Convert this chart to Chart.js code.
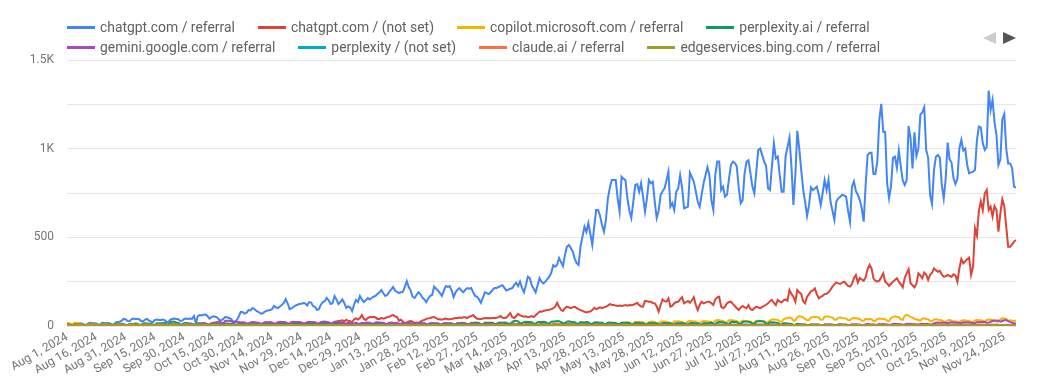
<!DOCTYPE html>
<html>
<head>
<meta charset="utf-8">
<script src="https://cdn.jsdelivr.net/npm/chart.js@4.4.1/dist/chart.umd.min.js"></script>
<style>
  html, body { margin: 0; padding: 0; background: #fff; }
  #wrap { position: relative; width: 1039px; height: 376px; overflow: hidden; font-family: Roboto, "Noto Sans", sans-serif; }
  #c { position: absolute; left: 0; top: 0; }
  #legend { position: absolute; left: 67px; top: 17px; font-size: 13.9px; color: #616161; }
  .lrow { display: flex; height: 20px; align-items: center; white-space: nowrap; }
  .litem { display: flex; align-items: center; margin-right: 23px; }
  .lmark { width: 28px; height: 3px; margin-right: 5px; }
  .tri { position: absolute; top: 32px; width: 0; height: 0; border-top: 6px solid transparent; border-bottom: 6px solid transparent; }
  #prev { left: 983px; border-right: 13px solid #cccccc; }
  #next { left: 1003px; border-left: 13px solid #555555; }
</style>
</head>
<body>
<div id="wrap">
  <canvas id="c" width="1039" height="376"></canvas>
  <div id="legend"></div>
  <div class="tri" id="prev"></div>
  <div class="tri" id="next"></div>
</div>
<script>
// ---- Data (daily, Aug 1, 2024 .. Nov 30, 2025) ----
const startDate = "Aug 1, 2024";
const seriesNames = [
  "chatgpt.com / referral", "chatgpt.com / (not set)", "copilot.microsoft.com / referral", "perplexity.ai / referral",
  "gemini.google.com / referral", "perplexity / (not set)", "claude.ai / referral", "edgeservices.bing.com / referral"
];
const tickLabels = [
  "Aug 1, 2024","Aug 16, 2024","Aug 31, 2024","Sep 15, 2024","Sep 30, 2024","Oct 15, 2024","Oct 30, 2024",
  "Nov 14, 2024","Nov 29, 2024","Dec 14, 2024","Dec 29, 2024","Jan 13, 2025","Jan 28, 2025","Feb 12, 2025",
  "Feb 27, 2025","Mar 14, 2025","Mar 29, 2025","Apr 13, 2025","Apr 28, 2025","May 13, 2025","May 28, 2025",
  "Jun 12, 2025","Jun 27, 2025","Jul 12, 2025","Jul 27, 2025","Aug 11, 2025","Aug 26, 2025","Sep 10, 2025",
  "Sep 25, 2025","Oct 10, 2025","Oct 25, 2025","Nov 9, 2025","Nov 24, 2025"
];
const yTickValues = [0, 500, 1000, 1500];
const yTickText = ["0", "500", "1K", "1.5K"];

const chatgptReferral = [
14,12,6,5,15,16,13,15,13,7,
6,16,18,15,16,14,8,7,18,17,
16,17,15,9,9,20,22,24,30,40,
38,28,27,38,42,40,40,38,28,26,
36,40,30,25,22,34,36,34,34,36,
33,22,24,36,40,42,40,38,28,30,
40,42,40,42,40,56,15,55,62,60,
64,65,55,42,50,55,52,48,34,32,
40,50,49,45,40,25,25,34,55,80,
78,70,75,90,88,101,96,85,80,72,
70,78,85,88,90,95,113,105,101,110,
118,130,152,128,95,100,107,115,120,124,
125,130,128,115,135,132,113,108,90,95,
120,135,140,158,145,124,128,169,150,124,
135,150,130,102,110,105,84,120,147,135,
169,150,135,145,158,150,158,165,170,180,
190,203,185,169,175,192,205,221,200,192,
185,190,192,220,253,220,200,165,158,175,
190,180,160,150,135,155,170,175,222,210,
200,185,170,200,225,220,225,200,163,190,
205,214,200,190,205,214,210,214,190,170,
165,150,130,160,190,185,180,190,205,214,
214,220,225,230,215,200,205,210,214,230,
244,225,250,215,190,230,278,270,230,210,
190,230,270,250,240,250,265,278,300,343,
335,345,383,360,338,400,447,457,440,419,
380,355,345,450,504,560,530,580,520,457,
560,654,654,620,570,532,600,720,780,823,
823,823,720,645,842,830,823,720,650,609,
700,795,800,757,805,730,645,720,823,805,
814,700,609,650,738,760,776,820,870,673,
693,654,757,776,851,780,664,668,673,865,
840,814,760,702,673,740,805,850,895,851,
710,654,851,927,927,767,785,729,740,830,
908,927,920,900,780,692,710,860,927,935,
860,786,748,870,993,1000,965,927,905,777,
767,900,1030,945,955,850,757,757,955,1010,
1063,900,682,850,1101,1000,880,770,700,620,
680,782,767,775,786,740,682,750,823,767,
825,702,650,598,702,720,729,740,735,729,
650,588,786,815,760,740,710,664,588,795,
964,977,977,857,857,930,1162,1252,1096,1096,
805,720,790,948,955,891,989,900,820,795,
820,1128,1060,889,1092,959,1000,1190,1205,1233,
993,950,739,688,880,955,965,950,795,720,
830,1034,940,920,833,801,830,1001,1049,990,
1000,908,861,866,870,880,1050,1124,1120,1030,
993,1010,1327,1218,1275,1150,1077,908,940,1165,
1196,1000,917,917,890,786,780
];

const chatgptNotSet = [
4,5,2,2,5,6,5,4,5,2,
2,6,5,6,5,4,2,3,6,7,
5,6,5,3,2,6,7,6,7,6,
3,3,7,8,6,7,7,4,3,8,
7,8,6,8,4,4,9,8,7,8,
9,4,5,8,9,10,8,9,4,5,
10,9,8,9,10,5,5,10,11,10,
11,10,6,6,11,12,10,11,9,6,
7,12,11,12,10,8,6,7,12,13,
12,13,11,7,8,13,14,12,13,11,
8,8,14,13,14,13,12,8,9,15,
14,15,14,13,9,10,15,16,14,15,
15,10,11,16,17,16,15,14,10,12,
18,17,18,20,16,12,14,22,25,28,
30,32,26,34,30,28,20,38,43,36,
45,62,40,34,45,50,49,52,48,40,
40,45,42,45,50,52,58,62,55,50,
30,35,25,17,20,25,28,25,17,20,
17,25,30,35,40,43,45,49,50,45,
38,38,35,40,42,38,38,40,42,45,
45,48,45,49,49,45,52,55,62,50,
42,38,40,42,45,44,45,44,45,45,
46,50,56,46,45,48,60,73,50,45,
55,68,60,56,52,55,50,52,56,50,
60,70,81,80,85,88,90,92,95,100,
109,131,109,90,85,100,109,105,100,105,
109,100,95,90,85,80,77,80,81,90,
103,95,100,105,100,105,109,115,124,120,
118,115,113,115,113,115,118,115,118,117,
120,125,131,118,110,109,141,139,137,137,
130,128,110,81,120,150,140,137,156,109,
115,128,135,137,150,162,128,135,141,131,
145,162,120,90,120,137,128,132,137,137,
128,118,150,162,165,109,100,110,128,135,
137,125,113,100,90,105,113,105,100,118,
95,90,100,109,105,100,108,113,120,128,
140,147,130,118,147,138,133,145,150,143,
203,180,165,137,203,190,180,140,128,165,
180,195,200,212,180,156,165,170,180,182,
190,205,222,235,246,240,237,245,250,238,
226,222,237,270,288,245,270,262,255,275,
320,345,325,269,255,250,255,275,297,250,
240,226,238,250,260,269,250,235,218,270,
297,320,241,230,218,237,297,285,269,301,
290,260,288,300,325,315,306,311,290,278,
280,288,282,278,292,285,250,325,378,353,
365,376,385,288,335,551,510,650,702,654,
748,767,654,673,617,676,654,532,636,714,
676,560,447,447,460,476,485
];

const copilotReferral = [
14,17,12,10,18,16,15,12,10,6,
5,9,8,7,8,6,4,4,7,8,
7,6,5,3,3,7,8,6,7,6,
4,3,6,7,6,5,6,4,3,6,
7,6,5,6,3,4,8,6,6,7,
5,3,3,6,7,6,6,5,3,4,
6,7,6,5,6,3,3,7,6,7,
6,5,3,4,7,6,6,7,5,3,
4,6,7,6,6,5,3,3,7,6,
7,6,5,3,4,7,8,7,6,7,
4,3,7,8,7,6,7,4,3,8,
7,8,6,7,3,4,8,9,8,7,
8,4,4,8,7,8,9,8,4,3,
8,9,8,7,8,4,4,9,8,9,
7,8,4,4,6,5,3,6,7,4,
4,8,7,6,8,7,4,4,9,8,
9,8,7,4,5,9,10,8,9,8,
5,4,9,10,9,8,9,5,4,10,
9,10,8,9,5,5,10,11,9,10,
9,5,5,11,10,9,10,9,5,5,
10,11,10,9,10,6,5,11,10,12,
11,10,6,5,12,11,10,11,10,6,
6,12,11,12,10,11,6,6,12,13,
12,11,10,6,7,12,13,12,11,12,
7,7,13,12,14,12,13,7,7,13,
14,13,12,13,8,7,14,13,15,14,
13,8,8,15,14,15,16,14,8,9,
16,15,17,16,15,9,10,17,18,16,
17,16,10,10,18,19,20,22,18,12,
13,25,22,24,22,20,14,13,22,24,
25,22,15,15,24,26,25,24,22,16,
16,25,26,27,25,24,17,17,26,28,
27,26,25,18,18,25,28,27,26,25,
18,19,30,34,32,30,28,20,20,32,
33,32,30,29,20,21,30,28,27,26,
25,18,19,28,30,29,28,27,20,21,
32,35,38,36,34,25,24,38,42,45,
48,45,30,32,50,56,52,48,40,32,
34,48,50,52,50,48,35,36,52,54,
53,50,48,36,35,46,48,45,43,42,
33,32,43,45,44,42,40,30,30,40,
38,40,38,28,28,40,42,41,40,38,
30,29,45,50,55,52,50,38,35,58,
62,60,50,48,40,38,34,30,42,44,
40,38,28,27,36,38,36,34,33,25,
24,32,34,30,25,27,22,22,30,32,
31,30,29,22,23,32,34,33,33,30,
24,34,36,35,34,33,26,26,38,43,
42,40,30,32,30,28,32
];

const perplexityAiReferral = [
8,9,5,5,10,11,9,10,9,5,
5,11,10,12,10,9,6,5,12,11,
10,11,10,6,6,12,13,11,12,11,
6,6,12,13,12,14,13,7,7,14,
15,14,13,14,7,8,15,16,15,16,
18,10,9,22,25,24,20,17,10,9,
16,17,15,14,13,8,8,15,16,14,
15,14,8,7,14,15,13,14,12,7,
7,13,14,13,12,11,6,6,12,13,
12,11,10,6,6,12,13,12,11,12,
7,6,12,13,12,11,12,6,7,13,
12,13,12,11,6,6,12,13,12,13,
12,7,6,13,12,13,12,11,6,7,
13,14,13,12,13,7,7,14,13,12,
13,12,7,6,10,9,5,8,10,7,
7,12,13,12,14,13,8,8,14,15,
14,13,14,8,8,15,16,14,15,14,
9,8,15,14,16,15,14,9,8,15,
16,15,14,15,8,9,16,15,16,14,
15,9,9,16,17,16,15,16,9,10,
17,16,18,17,16,10,10,18,17,19,
18,17,10,10,18,19,18,19,18,11,
11,19,20,19,20,18,12,12,22,28,
30,26,16,15,22,24,22,23,21,14,
13,22,23,22,24,23,14,14,24,25,
26,28,27,22,16,15,25,27,24,23,
22,14,13,22,21,20,22,21,13,12,
20,21,20,19,20,12,11,19,20,19,
18,17,11,10,18,19,18,17,18,10,
10,17,18,17,16,17,10,9,16,17,
16,17,15,9,9,16,17,16,15,16,
9,9,16,15,16,17,15,9,9,16,
17,16,15,16,9,8,15,16,15,16,
20,12,10,20,22,21,20,19,11,10,
22,24,23,22,12,11,23,25,26,24,
22,13,12,25,27,28,26,24,13,12,
22,20,21,19,17,10,9,16,15,14,
13,12,7,6,12,11,10,9,8,5,
5,8,9,8,7,8,5,4,8,7,
8,7,5,4,4,7,8,7,6,7,
4,4,7,6,7,6,5,3,3,6,
7,6,5,6,3,3,6,7,6,5,
6,3,3,6,5,6,7,6,3,3,
6,7,6,5,6,3,3,6,7,6,
5,6,3,3,5,6,7,6,5,3,
3,6,5,6,7,6,3,3,6,7,
6,5,6,3,3,6,5,6,7,6,
3,3,6,7,6,5,6,3,3,5,
6,5,4,3,3,3,4
];

const geminiReferral = [
3,4,2,2,4,5,4,3,4,2,
2,4,5,4,5,4,2,2,5,4,
5,4,4,2,2,5,6,5,6,5,
3,3,6,7,6,6,7,3,3,7,
8,7,6,7,4,4,8,9,8,9,
8,5,5,9,10,9,10,9,5,5,
10,11,10,12,11,6,6,12,13,14,
15,14,8,8,16,18,20,22,25,18,
15,28,30,29,28,20,18,25,22,20,
21,20,14,15,20,22,21,20,19,14,
13,20,22,21,22,20,14,15,22,24,
23,22,21,15,14,23,24,22,23,22,
20,16,15,22,24,23,22,21,15,14,
22,24,25,23,21,15,16,24,22,23,
21,20,15,14,18,16,10,14,18,14,
13,18,16,18,20,19,14,13,20,21,
20,19,18,13,12,19,20,18,17,18,
12,12,18,17,16,15,16,11,10,16,
15,14,15,14,10,10,14,15,13,14,
13,9,9,14,13,12,13,12,8,8,
12,13,11,12,11,8,8,12,11,12,
11,10,7,7,11,12,11,10,11,7,
7,11,10,11,10,9,6,6,10,11,
10,9,10,6,6,10,9,10,9,8,
5,5,9,10,9,8,9,5,5,10,
9,8,9,8,5,5,9,10,9,8,
9,5,5,9,8,9,8,7,5,5,
8,9,8,7,8,5,5,9,8,9,
8,7,5,4,8,9,8,7,8,5,
5,8,9,8,7,8,5,5,8,9,
8,9,7,4,5,9,8,7,8,5,
5,8,9,8,7,8,5,4,8,9,
8,7,8,5,5,9,8,7,8,7,
5,5,8,9,8,7,8,5,5,9,
8,7,8,7,5,5,8,9,8,7,
8,5,5,9,8,9,8,7,5,5,
8,9,8,7,8,5,5,9,8,7,
8,7,5,5,8,9,8,7,8,5,
5,9,8,7,8,7,5,5,8,9,
8,9,8,5,6,9,10,9,8,9,
6,6,10,9,10,9,8,6,6,10,
11,10,9,10,7,7,11,10,11,10,
9,7,7,11,12,11,10,11,7,8,
12,11,12,10,11,8,8,12,13,12,
13,12,9,9,14,18,20,19,20,19,
18,15,20,21,20,19,20,16,17,21,
20,21,19,20,16,16,22,21,22,23,
22,18,18,24,28,30,31,30,25,28,
32,33,28,22,18,14,16
];

const perplexityNotSet = [
3,4,2,2,4,3,4,3,4,2,
2,4,3,4,3,4,2,2,4,3,
3,4,3,1,2,4,3,4,3,4,
2,2,4,3,4,3,4,2,1,4,
3,4,3,4,2,2,4,3,4,3,
4,2,2,3,4,3,4,3,2,1,
4,3,4,3,4,2,2,4,3,4,
3,4,2,2,4,3,4,3,4,2,
2,4,3,4,3,4,2,1,3,4,
3,4,3,2,2,4,3,4,3,4,
2,2,4,5,4,3,4,2,2,4,
5,4,3,4,2,2,4,5,4,5,
4,2,2,5,4,5,4,3,2,2,
4,5,4,5,4,2,2,5,4,5,
4,3,2,2,3,2,1,3,4,2,
2,4,5,4,5,4,2,2,5,4,
5,4,5,2,2,5,6,5,4,5,
2,2,5,6,5,6,5,2,3,5,
6,5,6,5,3,2,5,6,5,6,
5,3,2,6,5,6,5,6,3,2,
5,6,5,6,5,3,2,6,5,6,
5,6,3,2,6,5,6,5,6,3,
2,6,5,7,6,5,3,3,6,7,
6,5,6,3,3,6,7,6,5,6,
3,3,6,7,6,5,6,3,2,6,
7,6,5,6,3,3,6,5,6,7,
6,3,3,6,5,6,5,6,3,2,
6,5,6,5,6,3,3,5,6,5,
6,5,3,2,5,6,5,6,5,3,
3,5,6,5,6,5,3,2,5,6,
5,6,5,3,2,5,6,5,4,5,
3,2,5,4,5,4,5,2,2,5,
4,5,4,5,2,2,4,5,4,5,
4,2,2,5,4,5,4,5,2,2,
4,5,4,5,4,2,2,5,4,5,
4,5,2,2,4,5,4,5,4,2,
2,4,5,4,5,4,2,2,4,5,
4,5,4,2,2,4,5,4,5,4,
2,2,4,5,4,5,4,2,2,4,
5,4,5,4,2,2,4,5,4,5,
4,2,2,4,5,4,5,4,2,2,
4,5,4,5,4,2,2,4,5,4,
5,4,2,2,4,5,4,5,4,2,
2,4,5,4,5,4,2,2,4,5,
4,5,4,2,2,4,5,4,5,4,
2,2,4,5,4,5,4,2,2,4,
5,4,5,4,2,2,4,5,4,5,
4,2,2,4,5,4,5,4,2,2,
4,5,4,2,2,3,3
];

const claudeReferral = [
2,3,1,1,3,2,3,2,3,1,
1,3,2,3,2,3,1,1,3,2,
2,3,2,1,1,3,2,3,2,3,
1,1,3,2,3,2,3,1,1,3,
2,3,2,3,1,1,3,2,3,2,
3,1,1,3,4,3,4,3,1,1,
4,3,4,3,4,1,1,4,3,4,
3,4,2,2,4,3,4,3,4,2,
2,4,3,4,3,4,2,1,3,4,
3,4,3,2,2,4,3,4,3,4,
3,4,3,2,2,5,4,5,4,3,
2,2,5,4,6,5,4,2,2,5,
6,5,4,5,2,2,5,6,5,6,
5,3,2,6,5,6,5,6,3,2,
5,4,5,3,2,2,2,3,5,3,
3,5,6,5,6,5,3,2,6,5,
6,5,6,3,3,6,7,6,5,6,
3,3,6,7,6,7,6,3,3,6,
7,6,7,6,3,3,6,7,6,7,
6,3,3,7,6,7,6,7,3,3,
6,7,6,7,6,3,3,7,6,7,
6,7,3,3,7,6,7,6,7,3,
3,7,6,8,7,6,3,3,7,8,
7,6,7,3,3,7,8,7,6,7,
4,4,7,8,7,6,7,4,3,7,
8,7,6,7,4,4,7,6,7,8,
7,4,4,7,6,7,6,7,4,3,
7,6,7,6,7,4,4,6,7,6,
7,6,4,3,6,7,6,7,6,4,
4,6,7,6,7,6,4,3,6,7,
6,7,6,4,3,6,7,6,5,6,
4,3,6,5,6,5,6,3,3,6,
5,6,5,6,3,3,5,6,5,6,
5,3,3,6,5,6,5,6,3,3,
5,6,5,6,5,3,3,6,5,6,
5,6,3,3,5,6,5,6,5,3,
3,5,6,5,6,5,3,3,5,6,
5,6,5,3,3,5,6,5,6,5,
3,3,5,6,5,6,5,3,3,5,
6,5,6,5,3,3,5,6,5,6,
5,3,3,5,6,5,6,5,3,3,
5,6,5,6,5,3,3,5,6,5,
6,5,3,3,5,7,6,7,6,3,
3,6,7,6,7,6,3,3,6,7,
6,7,6,3,3,7,8,7,8,7,
3,3,7,8,7,8,7,3,3,7,
8,7,8,7,3,3,7,8,7,8,
7,3,3,7,8,7,8,7,3,3,
6,7,6,3,3,4,5
];

const edgeservicesReferral = [
10,11,6,6,12,11,10,11,10,6,
6,11,12,11,10,11,6,5,11,10,
11,10,9,5,5,10,11,10,9,10,
5,5,10,9,10,9,10,5,4,9,
10,9,8,9,4,4,9,10,9,8,
9,4,4,8,9,8,9,8,4,4,
8,9,8,7,8,4,4,8,7,8,
7,8,4,3,7,8,7,8,7,3,
3,7,8,7,6,7,3,3,7,6,
7,6,7,3,3,6,7,6,7,6,
3,3,6,7,6,5,6,3,3,6,
5,6,5,6,3,3,6,5,6,5,
6,3,3,5,6,5,6,5,3,3,
5,6,5,6,5,3,3,5,6,5,
6,5,3,3,4,3,2,4,5,3,
3,5,6,5,6,5,3,3,5,6,
5,6,5,3,3,5,6,5,6,5,
3,3,5,6,5,6,5,3,3,5,
6,5,6,5,3,3,5,6,5,6,
5,3,3,5,6,5,6,5,3,3,
5,6,5,6,5,3,3,5,6,5,
6,5,3,3,5,6,5,6,5,3,
3,5,6,5,6,5,3,3,5,6,
5,6,5,3,3,5,6,5,6,5,
3,3,5,6,5,6,5,3,3,5,
4,5,4,5,2,2,4,5,4,5,
4,2,2,4,5,4,5,4,2,2,
4,5,4,5,4,2,2,4,5,4,
5,4,2,2,4,5,4,5,4,2,
2,4,5,4,5,4,2,2,4,5,
4,5,4,2,2,4,5,4,5,4,
2,2,4,5,4,5,4,2,2,4,
5,4,5,4,2,2,4,5,4,5,
4,2,2,4,5,4,5,4,2,2,
4,5,4,5,4,2,2,4,5,4,
5,4,2,2,4,5,4,5,4,2,
2,4,5,4,5,4,2,2,4,5,
4,5,4,2,2,4,5,4,5,4,
2,2,4,5,4,5,4,2,2,4,
5,4,5,4,2,2,4,5,4,5,
4,2,2,4,5,4,5,4,2,2,
4,5,4,5,4,2,2,4,5,4,
5,4,2,2,4,5,4,5,4,2,
2,4,5,4,5,4,2,2,4,5,
4,5,4,2,2,4,5,4,5,4,
2,2,4,5,4,5,4,2,2,4,
5,4,5,4,2,2,4,5,4,5,
4,2,2,4,5,4,5,4,2,2,
4,5,4,2,2,3,4
];

// ---- Styles ----
const seriesValues = [chatgptReferral, chatgptNotSet, copilotReferral, perplexityAiReferral,
  geminiReferral, perplexityNotSet, claudeReferral, edgeservicesReferral];
const seriesColors = ["#4285f4", "#db4437", "#f4b400", "#0f9d58", "#ab47bc", "#00acc1", "#ff7043", "#9e9d24"];
const lastDay = 486;
const tickStep = 15;

// legend (HTML, two rows of four)
const legend = document.getElementById('legend');
for (let r = 0; r < 2; r++) {
  const row = document.createElement('div');
  row.className = 'lrow';
  for (let k = 0; k < 4; k++) {
    const i = r * 4 + k;
    const item = document.createElement('div');
    item.className = 'litem';
    const m = document.createElement('span');
    m.className = 'lmark';
    m.style.background = seriesColors[i];
    const t = document.createElement('span');
    t.textContent = seriesNames[i];
    item.appendChild(m); item.appendChild(t);
    row.appendChild(item);
  }
  legend.appendChild(row);
}

const datasets = seriesValues.map((vals, i) => ({
  label: seriesNames[i],
  data: vals.map((v, d) => ({ x: d, y: v })),
  borderColor: seriesColors[i],
  backgroundColor: seriesColors[i],
  borderWidth: 2,
  pointRadius: 0,
  tension: 0,
  fill: false,
  order: seriesValues.length - 1 - i
}));

new Chart(document.getElementById('c'), {
  type: 'line',
  data: { datasets },
  options: {
    responsive: false,
    animation: false,
    devicePixelRatio: 1,
    parsing: false,
    layout: { padding: { top: 60, right: 23, left: 0, bottom: 0 } },
    plugins: { legend: { display: false }, tooltip: { enabled: false } },
    scales: {
      x: {
        type: 'linear',
        min: 0,
        max: lastDay,
        grid: { display: false, drawTicks: false },
        border: { display: false },
        ticks: {
          stepSize: tickStep,
          includeBounds: false,
          autoSkip: false,
          minRotation: 30,
          maxRotation: 30,
          padding: 4,
          color: '#757575',
          font: { family: 'Roboto', size: 12 },
          callback: (v) => {
            const k = Math.round(v / tickStep);
            return (Math.abs(v - k * tickStep) < 1e-6 && tickLabels[k]) ? tickLabels[k] : '';
          }
        },
        afterFit: (s) => { s.height = 50; }
      },
      y: {
        min: 0,
        max: 1500,
        grid: { color: '#e6e6e6', drawTicks: false, lineWidth: 1 },
        border: { display: false },
        ticks: {
          stepSize: 250,
          padding: 13,
          color: '#757575',
          font: { family: 'Roboto', size: 12 },
          callback: (v) => {
            const k = yTickValues.indexOf(v);
            return k >= 0 ? yTickText[k] : '';
          }
        },
        afterFit: (s) => { s.width = 67; }
      }
    }
  }
});
</script>
</body>
</html>
